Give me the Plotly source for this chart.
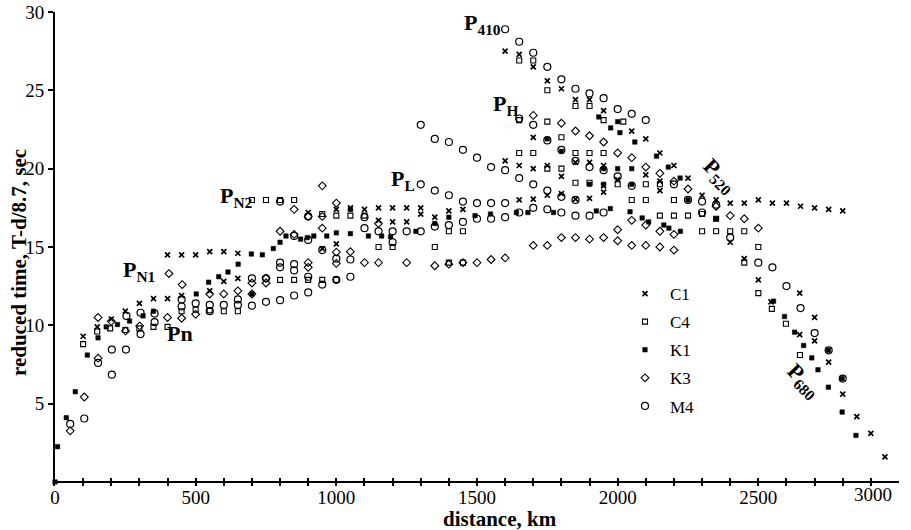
import plotly.graph_objects as go

# ---------------- data ----------------
c1_x = [100,150,200,250,300,350,400,450,550,600,650,
        400,450,500,550,600,650,
        900,950,1000,1000,1050,1100,1150,1150,1200,1200,1250,1250,1300,1300,1350,1400,1450,
        1600,1650,1700,1750,1800,1850,1900,1950,
        1650,1700,1750,1800,1850,1900,1950,
        1700,1950,2000,2100,2150,2150,
        1600,1650,1700,1750,1800,1850,1900,1950,2050,2100,2150,2200,2250,2300,2350,2400,2450,2500,2550,2600,2650,2700,2750,2800,
        2400,2450,2500,2545,2647,2647,2700,2700,2750,2800,2850,2900,2950]
c1_y = [9.3,9.9,10.4,10.9,11.4,11.7,11.7,11.9,12.2,12.8,13.0,
        14.5,14.5,14.5,14.7,14.7,14.6,
        17.2,14.9,17.4,15.2,17.5,17.4,17.5,16.7,17.5,16.6,17.5,16.6,17.5,17.1,16.9,17.3,17.4,
        20.5,20.2,20.0,20.2,19.5,20.4,20.4,20.2,
        18.0,18.05,18.3,18.4,18.05,18.1,18.5,
        22.0,18.9,19.3,19.6,19.2,18.6,
        27.5,27.3,26.5,25.6,25.1,24.4,24.4,23.7,22.4,21.9,21.0,20.2,19.4,18.3,18.0,17.8,17.8,18.0,17.8,17.8,17.6,17.5,17.4,17.3,
        15.3,14.25,12.9,11.5,12.05,9.4,10.5,9.0,7.65,5.6,4.17,3.1,1.6]

c4_x = [100,150,196,250,300,350,400,450,500,550,600,650,
        700,750,800,850,
        800,850,900,950,1000,
        950,1000,1050,1100,
        1150,1200,1350,1400,1450,1400,1450,
        1650,1700,1750,1850,1900,1950,2020,
        1650,1750,1800,
        1650,1700,1850,1900,1950,
        1750,1800,1850,1900,
        2000,2050,2100,2100,2150,2200,2150,2200,2250,2300,2350,2300,2350,2400,2450,2500,2450,
        2500,2548,2598,2648]
c4_y = [8.8,9.6,9.8,9.7,9.8,9.9,9.9,10.9,11.0,10.95,10.9,10.9,
        18.0,18.0,18.0,18.0,
        12.9,12.9,12.9,12.9,12.9,
        17.1,17.0,17.0,17.0,
        15.0,15.0,15.0,16.0,16.0,14.0,14.0,
        26.9,26.9,25.0,24.0,24.0,23.1,23.0,
        23.1,23.0,22.0,
        21.0,21.0,21.0,21.0,21.0,
        20.0,20.0,19.1,19.1,
        19.0,18.0,18.0,19.0,19.0,18.0,17.0,17.0,17.0,17.1,16.8,16.0,16.0,16.0,16.0,15.0,14.0,
        12.05,11.05,10.1,8.1]

k1_x = [0,9,40,72,115,153,182,222,265,313,350,502,546,582,615,651,700,
        698,737,776,800,821,873,897,920,966,1000,1050,1114,1161,1193,1283,1350,1400,1493,1548,1640,1681,1772,1924,
        1974,2044,2087,2110,2164,2182,2223,
        1933,1975,2000,2008,2061,2138,2180,2222,
        1750,1800,1900,1950,1950,2000,2050,2050,2250,2350,1050,
        2554,2593,2629,2661,2690,2712,2749,2749,2798,2798,2847]
k1_y = [0.0,2.25,4.1,5.76,8.1,9.2,9.9,10.05,10.27,10.6,10.9,12.0,12.75,13.1,13.4,13.9,12.0,
        14.55,14.5,14.9,15.3,15.7,15.5,15.6,15.7,15.7,15.9,15.85,15.7,15.7,15.65,16.0,16.5,16.9,17.0,17.1,17.2,17.2,17.2,17.3,
        17.45,17.25,16.85,16.6,16.4,16.2,16.0,
        23.3,22.6,23.0,22.3,21.7,20.8,20.1,19.4,
        21.9,21.1,19.0,19.0,20.0,20.0,20.0,19.0,18.0,16.8,17.4,
        11.54,10.56,9.56,8.71,7.92,7.16,8.4,6.05,6.6,4.46,2.97]

k3_x = [54,104,153,153,200,251,301,400,405,452,450,500,550,600,650,700,700,750,750,
        800,850,850,900,900,900,950,950,950,1000,1000,1000,1050,1100,1150,1150,1250,1350,1400,1450,1500,1550,1600,
        1700,1750,1800,1850,1900,1950,2000,2050,2100,2150,2200,
        2000,2050,2100,2150,2200,2250,2350,2400,2450,2500,
        1700,1800,1850,1900,1950,2000,2050,2100,2150,2200]
k3_y = [3.26,5.42,10.5,7.9,10.25,9.64,9.96,10.5,13.3,12.6,10.45,10.7,12.0,12.0,12.2,12.7,12.0,13.0,12.7,
        16.0,17.4,15.8,14.0,13.7,16.95,18.9,16.2,16.95,17.8,14.67,13.95,14.7,14.0,16.5,14.0,14.0,13.8,13.9,14.0,14.0,14.2,14.3,
        15.1,15.1,15.6,15.6,15.5,15.6,15.4,15.1,15.1,15.0,14.8,
        16.1,16.7,16.4,16.0,15.8,18.7,17.6,17.0,16.8,16.2,
        23.4,22.9,22.4,22.1,21.7,21.0,20.7,20.1,19.7,19.2]

m4_x = [54,104,153,202,202,254,252,304,304,354,354,450,450,500,550,550,600,650,650,700,750,800,850,900,950,1000,1050,
        700,750,800,800,850,850,900,900,850,800,900,950,1000,1050,1100,1100,
        1150,1200,1250,1300,1200,1350,1400,1450,1500,1550,1600,1650,1700,1750,1800,1850,1900,1950,
        1300,1350,1400,1450,1500,1550,1600,
        1300,1350,1400,1450,1500,1550,1600,1650,1700,1750,1800,1850,
        1600,1650,1700,1750,1800,1850,1900,1950,2000,2050,2100,
        1650,1700,1750,1800,1850,1900,1950,2000,2050,2200,2250,2300,2300,2350,2400,
        2500,2550,2600,2650,2700,2750,2800]
m4_y = [3.7,4.05,7.6,8.45,6.85,10.6,8.45,10.8,9.44,10.75,10.2,11.65,11.2,11.4,11.3,10.9,11.3,11.65,11.3,11.25,11.5,11.6,11.9,12.1,12.6,12.9,13.1,
        13.0,13.0,14.0,13.7,13.9,13.5,13.1,15.45,15.7,17.9,16.95,14.8,14.25,14.2,16.9,16.2,
        16.0,16.0,16.0,16.0,15.3,16.3,16.4,16.6,16.8,16.8,16.9,17.2,17.5,17.4,17.2,17.0,17.0,17.2,
        19.0,18.6,18.3,17.9,17.8,17.8,17.8,
        22.8,21.9,21.7,21.2,20.7,20.1,19.9,19.4,19.0,18.6,18.2,18.0,
        28.9,28.1,27.4,26.5,25.7,25.1,24.8,24.5,23.8,23.5,23.1,
        23.2,22.8,21.8,21.2,20.5,20.1,19.9,19.5,18.9,19.0,18.0,17.9,17.2,17.7,15.6,
        14.0,13.7,12.5,11.1,9.5,8.4,6.6]

series_names = ["C1", "C4", "K1", "K3", "M4"]
x_tick_values = [0, 500, 1000, 1500, 2000, 2500]
x_tick_labels = ["0", "500", "1000", "1500", "2000", "2500"]
x_last_label = "3000"
y_tick_values = [5, 10, 15, 20, 25, 30]
y_tick_labels = ["5", "10", "15", "20", "25", "30"]

# ---------------- figure ----------------
FONT = "Liberation Serif"
W, H = 911, 530
ML, MR, MT, PLOT_H = 55, 12, 12, 474
MB = H - MT - PLOT_H
PW = W - ML - MR
Y_RANGE = [-0.26, 30]

def paper(px, py):
    return (px - ML) / PW, (MT + PLOT_H - py) / PLOT_H

styles = {
    "C1": dict(symbol="x-thin", size=5, line=dict(width=1.7, color="black"), color="black"),
    "C4": dict(symbol="square-open", size=5, line=dict(width=1.1, color="black"), color="black"),
    "K1": dict(symbol="square", size=4.5, line=dict(width=0.5, color="black"), color="black"),
    "K3": dict(symbol="diamond-open", size=6, line=dict(width=1.1, color="black"), color="black"),
    "M4": dict(symbol="circle-open", size=7, line=dict(width=1.2, color="black"), color="black"),
}
data = {"C1": (c1_x, c1_y), "C4": (c4_x, c4_y), "K1": (k1_x, k1_y),
        "K3": (k3_x, k3_y), "M4": (m4_x, m4_y)}

fig = go.Figure()
for name in series_names:
    xs, ys = data[name]
    fig.add_trace(go.Scatter(x=xs, y=ys, mode="markers", name=name,
                             legendgroup=name, marker=styles[name], cliponaxis=False))

axis_font = dict(family=FONT, size=19, color="black")
fig.update_layout(
    template="none",
    width=W, height=H,
    margin=dict(l=ML, r=MR, t=MT, b=MB, pad=0),
    paper_bgcolor="white", plot_bgcolor="white",
    font=dict(family=FONT, color="black"),
    xaxis=dict(range=[0, 3000], showgrid=False, zeroline=False, showline=False,
               automargin=False, ticklabelstandoff=-2,
               ticks="inside", ticklen=8, tickwidth=1.5, tickcolor="black",
               tickvals=x_tick_values, ticktext=x_tick_labels, tickfont=axis_font,
               minor=dict(ticks="inside", dtick=100, tick0=0, ticklen=8, tickwidth=1.5,
                          tickcolor="black", showgrid=False)),
    yaxis=dict(range=Y_RANGE, showgrid=False, zeroline=True, zerolinecolor="black",
               zerolinewidth=2, showline=True, linecolor="black", linewidth=2,
               automargin=False,
               ticks="outside", ticklen=5, tickwidth=1.5, tickcolor="black",
               tickvals=y_tick_values, ticktext=y_tick_labels, tickfont=axis_font),
    legend=dict(x=paper(620, 0)[0], y=paper(0, 276)[1], xanchor="left", yanchor="top",
                bgcolor="rgba(0,0,0,0)", font=dict(family=FONT, size=17, color="black"),
                tracegroupgap=3, itemwidth=40),
    showlegend=True,
)

annos = []
def add_text(px, py, text, size=22, angle=0):
    x, y = paper(px, py)
    annos.append(dict(x=x, y=y, xref="paper", yref="paper", text=text, showarrow=False,
                      textangle=angle, font=dict(family=FONT, size=size, color="black"),
                      xanchor="center", yanchor="middle"))

add_text(482, 24, "<b>P</b><sub><b>410</b></sub>")
add_text(505, 105, "<b>P</b><sub><b>H</b></sub>")
add_text(403, 180, "<b>P</b><sub><b>L</b></sub>")
add_text(236, 197, "<b>P</b><sub><b>N2</b></sub>")
add_text(139, 271, "<b>P</b><sub><b>N1</b></sub>")
add_text(180, 333, "<b>Pn</b>")
add_text(719, 176, "<b>P</b><sub><b>520</b></sub>", angle=45)
add_text(803, 381, "<b>P</b><sub><b>680</b></sub>", angle=45)
# axis titles
add_text(500, 519, "<b>distance, km</b>", size=21)
add_text(19, 263, "<b>reduced time, T-d/8.7, sec</b>", size=21, angle=-90)
# last x tick label (shifted left in the original so that it fits)
add_text(873, 494, x_last_label, size=19)

fig.update_layout(annotations=annos)
fig.write_html("out.html", config={"displayModeBar": False},
               post_script="document.body.style.margin='0px';document.body.style.overflow='hidden';")
